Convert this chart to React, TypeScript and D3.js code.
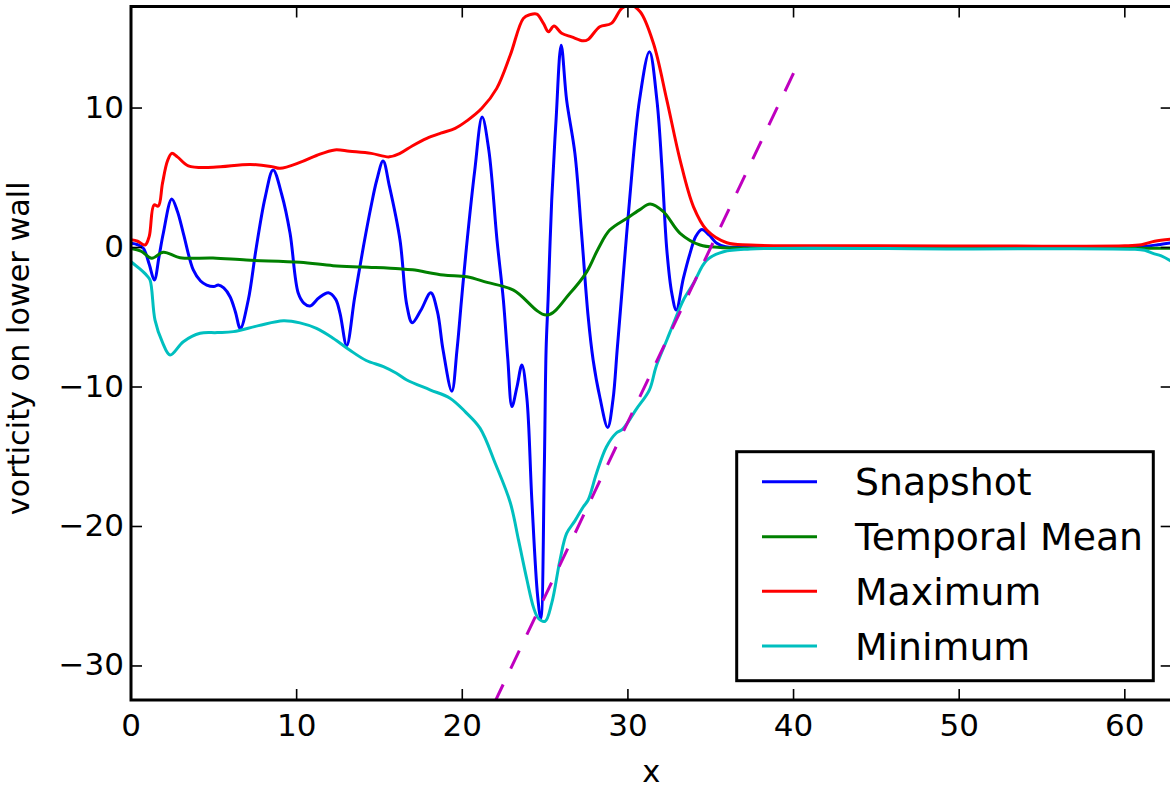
import React from "react";
import * as d3 from "d3";

// ---- data ----
const xTicks = [0, 10, 20, 30, 40, 50, 60];
const yTicks = [-30, -20, -10, 0, 10];
const xDomain: [number, number] = [0, 62.83];
const yDomain: [number, number] = [-32.44, 17.28];

const snapshot: [number, number][] = [
  [0, 0.3], [0.4, 0.2], [0.75, -0.06], [1.1, -1.2], [1.41, -2.33], [1.7, -0.6], [1.95, 1.02],
  [2.46, 3.48], [2.8, 2.6], [3.16, 1.02], [3.76, -1.61], [4.2, -2.4], [4.57, -2.69], [5.0, -2.8],
  [5.27, -2.69], [5.6, -2.9], [5.98, -3.53], [6.3, -4.6], [6.6, -5.8], [7.08, -3.76], [7.55, -0.1],
  [8.1, 3.6], [8.58, 5.56], [9.1, 3.8], [9.6, 1.04], [10.1, -3.28], [10.45, -4.0], [10.81, -4.19],
  [11.35, -3.6], [11.92, -3.24], [12.35, -3.7], [12.62, -4.72], [13.02, -7.04], [13.5, -3.6],
  [14.03, 0.06], [14.5, 3.0], [14.84, 4.84], [15.22, 6.2], [15.6, 4.4], [16.24, 0.54], [16.65, -4.12],
  [16.98, -5.39], [17.5, -4.5], [18.1, -3.24], [18.5, -4.6], [18.84, -7.35], [19.37, -10.3],
  [19.68, -7.35], [19.95, -3.8], [20.25, 0.0], [20.75, 5.5], [21.2, 9.35], [21.6, 7.0], [22.1, 0.5],
  [22.48, -3.76], [22.75, -8.0], [23.0, -11.4], [23.3, -10.0], [23.6, -8.42], [23.9, -10.8],
  [24.2, -18.1], [24.55, -25.0], [24.74, -26.6], [24.95, -16.0], [25.06, -7.35], [25.18, -3.76],
  [25.4, 3.4], [25.66, 9.1], [25.97, 14.5], [26.3, 10.57], [26.8, 6.75], [27.2, 1.04], [27.6, -4.96],
  [27.9, -8.06], [28.3, -10.7], [28.78, -12.9], [29.1, -10.9], [29.35, -7.35], [29.6, -3.76],
  [30.1, 3.4], [30.7, 10.57], [31.3, 14.04], [31.75, 10.57], [32.05, 5.8], [32.35, -0.18],
  [32.65, -3.28], [32.92, -4.48], [33.35, -2.2], [33.75, -0.42], [34.1, 0.8], [34.46, 1.3],
  [34.9, 0.9], [35.37, 0.3], [35.9, 0.05], [37.0, 0.0], [45, 0.0], [55, 0.0], [60, 0.02],
  [61.2, 0.08], [62.0, 0.2], [62.83, 0.35],
];

const temporalMean: [number, number][] = [
  [0, -0.06], [0.6, -0.25], [1.25, -0.77], [1.95, -0.34], [2.96, -0.73], [4.95, -0.75],
  [6.96, -0.9], [10.2, -1.06], [12.2, -1.3], [14.0, -1.4], [16.2, -1.52], [17.0, -1.6],
  [18.86, -1.97], [20.27, -2.09], [21.5, -2.5], [23.09, -3.05], [25.1, -4.84], [26.5, -3.28],
  [27.52, -1.73], [28.2, -0.1], [28.9, 1.25], [29.93, 2.09], [30.7, 2.7], [31.34, 3.12],
  [32.14, 2.57], [33.15, 1.02], [34.36, 0.18], [35.57, 0.01], [45, -0.03], [60, -0.05],
  [62.83, -0.05],
];

const maximum: [number, number][] = [
  [0, 0.55], [0.4, 0.45], [0.85, 0.18], [1.1, 0.8], [1.39, 3.05], [1.65, 2.97], [1.9, 4.6],
  [2.2, 6.2], [2.46, 6.75], [2.8, 6.5], [3.46, 5.86], [4.97, 5.75], [7.19, 5.96], [8.5, 5.8],
  [9.0, 5.68], [10.2, 6.1], [11.2, 6.6], [12.3, 7.0], [13.2, 6.9], [14.5, 6.75], [15.6, 6.5],
  [16.24, 6.75], [17.0, 7.3], [17.86, 7.83], [18.7, 8.2], [19.57, 8.54], [20.3, 9.1],
  [21.18, 9.98], [22.08, 11.41], [22.9, 13.8], [23.69, 16.43], [24.1, 16.7], [24.5, 16.74],
  [24.9, 16.07], [25.2, 15.47], [25.54, 15.88], [26.0, 15.36], [26.6, 15.1], [27.3, 14.82],
  [27.6, 14.92], [28.3, 15.83], [29.0, 16.07], [29.63, 17.15], [30.13, 17.38], [30.74, 16.9],
  [31.54, 14.64], [32.35, 10.57], [33.15, 6.27], [33.96, 2.92], [34.76, 1.25], [35.97, 0.34],
  [37.4, 0.18], [45, 0.12], [55, 0.1], [60, 0.12], [61.0, 0.2], [61.8, 0.45], [62.83, 0.6],
];

const minimum: [number, number][] = [
  [0, -1.02], [0.5, -1.5], [0.95, -2.0], [1.15, -2.33], [1.45, -5.2], [1.9, -6.8], [2.36, -7.7],
  [3.16, -6.75], [4.17, -6.15], [5.2, -6.1], [6.18, -6.03], [7.7, -5.6], [9.2, -5.25],
  [10.2, -5.4], [11.2, -5.8], [12.2, -6.5], [13.2, -7.35], [14.2, -8.1], [15.24, -8.54],
  [16.0, -9.0], [16.65, -9.5], [18.05, -10.2], [19.26, -10.8], [20.2, -11.8], [21.07, -12.95],
  [22.0, -15.5], [22.9, -18.3], [23.4, -21.0], [23.9, -23.8], [24.3, -25.8], [24.6, -26.6],
  [25.0, -26.8], [25.4, -25.5], [25.9, -22.4], [26.3, -20.5], [26.8, -19.6], [27.3, -18.6],
  [27.6, -18.1], [28.1, -16.2], [28.7, -14.3], [29.3, -13.3], [29.7, -13.0], [30.5, -11.6],
  [31.3, -10.2], [31.7, -8.54], [32.35, -6.63], [32.8, -5.3], [33.35, -3.76], [33.96, -2.57],
  [34.76, -0.9], [35.77, -0.3], [37.4, -0.1], [50, -0.1], [60.5, -0.12], [61.2, -0.2],
  [61.7, -0.42], [62.2, -0.6], [62.83, -1.0],
];

const referenceLine: [number, number][] = [
  [40, 12.5],
  [20, -37.5],
];

const seriesNames = ["Snapshot", "Temporal Mean", "Maximum", "Minimum"];
const seriesColors = ["#0000ff", "#008000", "#ff0000", "#00bfbf"];
const seriesData = [snapshot, temporalMean, maximum, minimum];

// ---- layout ----
const W = 1170;
const H = 789;
const left = 131;
const right = 1171.7;
const top = 6.5;
const bottom = 700;
const FONT = "DejaVu Sans, Verdana, sans-serif";

export default function App() {
  const x = d3.scaleLinear().domain(xDomain).range([left, right]);
  const y = d3.scaleLinear().domain(yDomain).range([bottom, top]);
  const line = d3
    .line<[number, number]>()
    .x((d) => x(d[0]))
    .y((d) => y(d[1]))
    .curve(d3.curveCatmullRom.alpha(0.5));
  const straight = d3
    .line<[number, number]>()
    .x((d) => x(d[0]))
    .y((d) => y(d[1]));

  const tickLen = 11;
  const legendX = 736.7;
  const legendY = 451.7;
  const legendW = 416.6;
  const legendH = 229;
  const legendRows = [481.7, 536.7, 591.2, 646];

  return (
    <svg
      width={W}
      height={H}
      style={{ position: "absolute", left: 0, top: 0, background: "#fff" }}
      fontFamily={FONT}
    >
      <defs>
        <clipPath id="plotclip">
          <rect x={left} y={top} width={right - left} height={bottom - top} />
        </clipPath>
      </defs>
      <rect x={0} y={0} width={W} height={H} fill="#fff" />

      <g clipPath="url(#plotclip)" fill="none" strokeLinejoin="round">
        {seriesData.map((s, i) => (
          <path key={i} d={line(s) || ""} stroke={seriesColors[i]} strokeWidth={3} />
        ))}
        <path
          d={straight(referenceLine) || ""}
          stroke="#bf00bf"
          strokeWidth={3}
          strokeDasharray="20 17.6"
        />
      </g>

      {/* ticks */}
      <g stroke="#000" strokeWidth={1.6}>
        {xTicks.map((t) => (
          <g key={"xt" + t}>
            <line x1={x(t)} x2={x(t)} y1={bottom} y2={bottom - tickLen} />
            <line x1={x(t)} x2={x(t)} y1={top} y2={top + tickLen} />
          </g>
        ))}
        {yTicks.map((t) => (
          <g key={"yt" + t}>
            <line x1={left} x2={left + tickLen} y1={y(t)} y2={y(t)} />
            <line x1={right} x2={right - tickLen} y1={y(t)} y2={y(t)} />
          </g>
        ))}
      </g>

      {/* spines */}
      <rect
        x={left}
        y={top}
        width={right - left}
        height={bottom - top}
        fill="none"
        stroke="#000"
        strokeWidth={3}
      />

      {/* tick labels */}
      <g fontSize={31} fill="#000">
        {xTicks.map((t) => (
          <text key={"xl" + t} x={x(t)} y={736} textAnchor="middle">
            {t}
          </text>
        ))}
        {yTicks.map((t) => (
          <text key={"yl" + t} x={124} y={y(t) + 9.5} textAnchor="end">
            {t < 0 ? "\u2212" + Math.abs(t) : String(t)}
          </text>
        ))}
      </g>

      {/* axis labels */}
      <text x={(left + right) / 2} y={781.5} fontSize={30.5} textAnchor="middle">
        x
      </text>
      <text
        transform={`translate(28.5, ${(top + bottom) / 2 - 5}) rotate(-90)`}
        fontSize={30.3}
        textAnchor="middle"
      >
        vorticity on lower wall
      </text>

      {/* legend */}
      <rect
        x={legendX}
        y={legendY}
        width={legendW}
        height={legendH}
        fill="#fff"
        stroke="#000"
        strokeWidth={3}
      />
      {seriesNames.map((n, i) => (
        <g key={n}>
          <line
            x1={762}
            x2={817}
            y1={legendRows[i]}
            y2={legendRows[i]}
            stroke={seriesColors[i]}
            strokeWidth={3}
          />
          <text x={855} y={legendRows[i] + 13.5} fontSize={37.8}>
            {n}
          </text>
        </g>
      ))}
    </svg>
  );
}
